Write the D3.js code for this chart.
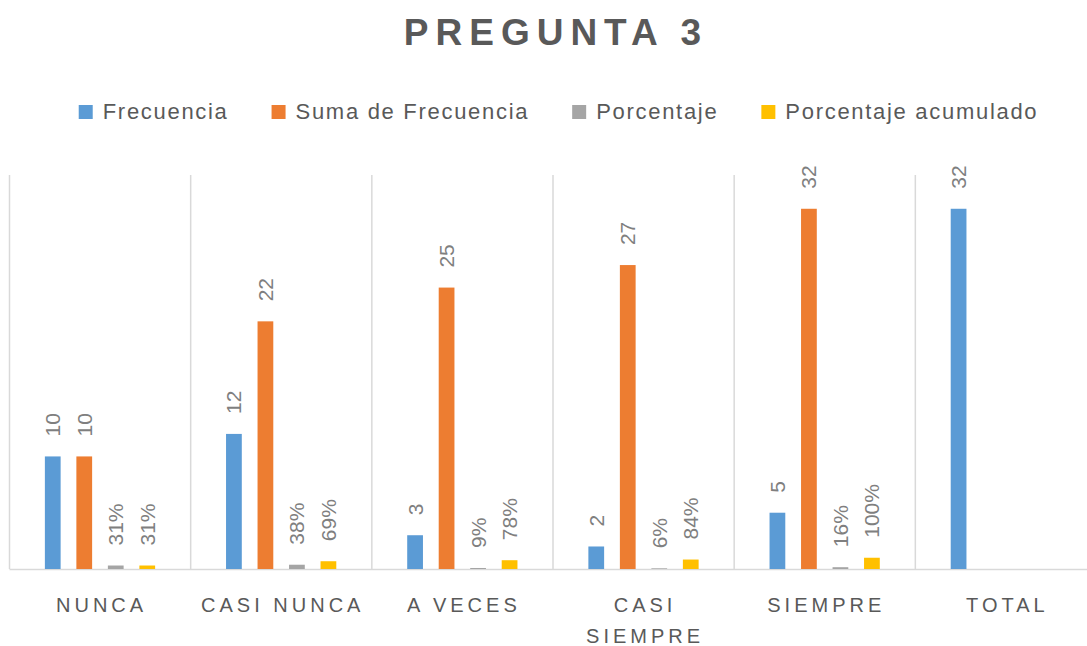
<!DOCTYPE html>
<html>
<head>
<meta charset="utf-8">
<script src="https://cdn.jsdelivr.net/npm/d3@7"></script>
<style>
  html, body { margin: 0; padding: 0; background: #fff; }
  svg { display: block; font-family: "Liberation Sans", Arial, sans-serif; }
</style>
</head>
<body>
<div id="chart"></div>
<script>
// data
const categories = ['NUNCA', 'CASI NUNCA', 'A VECES', 'CASI SIEMPRE', 'SIEMPRE', 'TOTAL'];
const frecuencia = [10, 12, 3, 2, 5, 32];
const sumaFrecuencia = [10, 22, 25, 27, 32, null];
const porcentaje = [0.31, 0.38, 0.09, 0.06, 0.16, null];
const porcentajeAcumulado = [0.31, 0.69, 0.78, 0.84, 1.0, null];

const seriesNames = ['Frecuencia', 'Suma de Frecuencia', 'Porcentaje', 'Porcentaje acumulado'];
const seriesValues = [frecuencia, sumaFrecuencia, porcentaje, porcentajeAcumulado];
const seriesColors = ['#5b9bd5', '#ed7d31', '#a5a5a5', '#ffc000'];
const seriesFormats = [d3.format('d'), d3.format('d'), d3.format('.0%'), d3.format('.0%')];

const width = 1087;
const height = 646;
const plot = { left: 9, right: 1096, top: 175, bottom: 569 };

const svg = d3.select('#chart')
  .append('svg')
  .attr('width', width)
  .attr('height', height);

// title
svg.append('text')
  .attr('x', 556)
  .attr('y', 45)
  .attr('text-anchor', 'middle')
  .attr('fill', '#595959')
  .attr('font-size', 37)
  .attr('font-weight', 'bold')
  .attr('letter-spacing', 7)
  .text('PREGUNTA 3');

// legend
const legend = svg.append('g').attr('class', 'legend');
let lx = 0;
seriesNames.forEach((name, i) => {
  const item = legend.append('g').attr('transform', `translate(${lx}, 0)`);
  item.append('rect')
    .attr('x', 0)
    .attr('y', -14)
    .attr('width', 14)
    .attr('height', 14)
    .attr('fill', seriesColors[i]);
  const t = item.append('text')
    .attr('x', 24)
    .attr('y', 0)
    .attr('fill', '#595959')
    .attr('font-size', 22)
    .attr('letter-spacing', 1.7)
    .text(name);
  lx += 24 + t.node().getComputedTextLength() + 43;
});
const legendWidth = lx - 43;
legend.attr('transform', `translate(${(width - legendWidth) / 2 + 15}, 119)`);

const x0 = d3.scaleBand()
  .domain(categories)
  .range([plot.left, plot.right])
  .paddingInner(0)
  .paddingOuter(0);

const x1 = d3.scaleBand()
  .domain(d3.range(seriesNames.length))
  .range([28, 154])
  .paddingInner(0.5)
  .paddingOuter(0.25);

const y = d3.scaleLinear()
  .domain([0, 35])
  .range([plot.bottom, plot.top]);

// vertical category separators
svg.append('g')
  .selectAll('line')
  .data(categories)
  .join('line')
  .attr('x1', d => x0(d) + 0.5)
  .attr('x2', d => x0(d) + 0.5)
  .attr('y1', y(35))
  .attr('y2', y(0))
  .attr('stroke', '#d9d9d9')
  .attr('stroke-width', 1.5);

// category axis
const xAxis = svg.append('g')
  .attr('transform', `translate(0, ${y(0)})`)
  .call(d3.axisBottom(x0).tickSize(0).tickPadding(0));

xAxis.select('.domain')
  .attr('stroke', '#d9d9d9')
  .attr('stroke-width', 1.5);

xAxis.selectAll('text')
  .attr('font-family', '"Liberation Sans", Arial, sans-serif')
  .attr('font-size', 20)
  .attr('fill', '#595959')
  .attr('letter-spacing', 4)
  .attr('dy', null)
  .attr('y', 43)
  .each(function (d) {
    const text = d3.select(this);
    text.text(null);
    const words = d.split(' ');
    let line = [];
    let lineNo = 0;
    let tspan = text.append('tspan').attr('x', 2).attr('y', 43);
    words.forEach(w => {
      line.push(w);
      tspan.text(line.join(' '));
      if (tspan.node().getComputedTextLength() > x0.bandwidth() - 6 && line.length > 1) {
        line.pop();
        tspan.text(line.join(' '));
        line = [w];
        lineNo += 1;
        tspan = text.append('tspan')
          .attr('x', 2)
          .attr('y', 43 + lineNo * 31)
          .text(w);
      }
    });
  });

// bars
const groups = svg.append('g')
  .selectAll('g')
  .data(categories)
  .join('g')
  .attr('transform', d => `translate(${x0(d)}, 0)`);

const cells = groups.selectAll('g')
  .data((d, ci) => seriesValues.map((vals, si) => ({ si, value: vals[ci] })).filter(c => c.value !== null))
  .join('g');

cells.append('rect')
  .attr('x', d => x1(d.si))
  .attr('y', d => y(d.value))
  .attr('width', x1.bandwidth())
  .attr('height', d => y(0) - y(d.value))
  .attr('fill', d => seriesColors[d.si]);

cells.append('text')
  .attr('transform', d => `translate(${x1(d.si) + x1.bandwidth() / 2}, ${y(d.value) - 20}) rotate(-90)`)
  .attr('dy', '0.36em')
  .attr('text-anchor', 'start')
  .attr('fill', '#7f7f7f')
  .attr('font-size', 21)
  .text(d => seriesFormats[d.si](d.value));
</script>
</body>
</html>
